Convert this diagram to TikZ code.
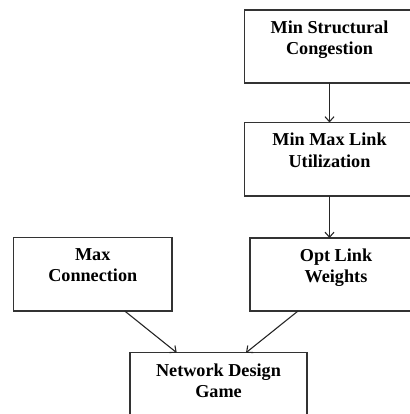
\documentclass[tikz,border=0pt]{standalone}
\usepackage{fontspec}
\setmainfont{Liberation Serif}
\usetikzlibrary{arrows.meta}

\tikzset{
  stagebox/.style={draw=black!80, line width=1.2pt, rectangle, inner sep=0pt, outer sep=0pt},
  stagetext/.style={anchor=north, inner sep=0pt, align=center,
    font=\fontsize{18.2}{21.5}\selectfont\bfseries},
  flow/.style={draw=black!85, line width=1.1pt, -{Straight Barb[length=5pt,width=9pt,line width=1.1pt]}}
}

\begin{document}
\begin{tikzpicture}[x=1pt,y=1pt]
  \useasboundingbox (0,0) rectangle (409,-414);

  % boxes
  \node[stagebox, minimum width=170pt, minimum height=73pt]   (msc) at (329.5,-46.5)   {};
  \node[stagebox, minimum width=170pt, minimum height=73.5pt] (mml) at (329.5,-159.25) {};
  \node[stagebox, minimum width=172pt, minimum height=73pt]   (olw) at (336,-274.5)    {};
  \node[stagebox, minimum width=158.5pt, minimum height=73.5pt] (mxc) at (92.75,-274.25) {};
  \node[stagebox, minimum width=177pt, minimum height=73pt]   (ndg) at (218.5,-389.2)  {};

  % labels sit in the upper part of each box
  \node[stagetext] (msc-t) at ([yshift=-10.5pt]msc.north) {Min Structural\\Congestion};
  \node[stagetext] (mml-t) at ([yshift=-10.5pt]mml.north) {Min Max Link\\Utilization};
  \node[stagetext] (olw-t) at ([yshift=-10.5pt]olw.north) {Opt Link\\Weights};
  \node[stagetext] (mxc-t) at ([yshift=-10.5pt]mxc.north) {Max\\Connection};
  \node[stagetext] (ndg-t) at ([yshift=-10.5pt]ndg.north) {Network Design\\Game};

  % connectors
  \draw[flow] (msc.south) -- (mml.north);
  \draw[flow] (mml.south) -- (mml.south |- olw.north);
  \draw[flow] ([xshift=32pt]mxc.south) -- ([xshift=-41.8pt]ndg.north);
  \draw[flow] ([xshift=-38pt]olw.south) -- ([xshift=27.5pt]ndg.north);
\end{tikzpicture}
\end{document}
